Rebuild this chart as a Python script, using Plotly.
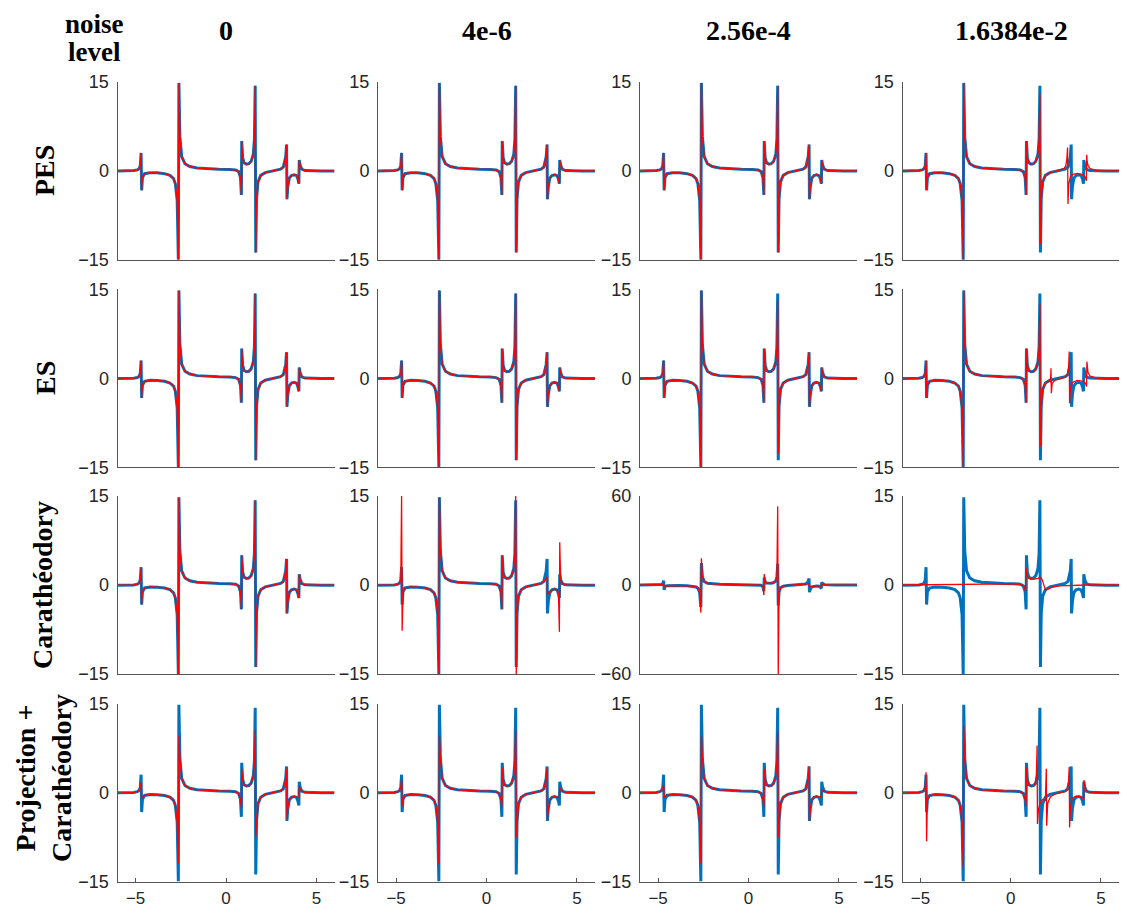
import plotly.graph_objects as go

# ---------------- data ----------------
NOISE_LEVELS = ["0", "4e-6", "2.56e-4", "1.6384e-2"]
METHODS = ["PES", "ES", "Carathéodory", "Projection +<br>Carathéodory"]
HEADER_LINES = ["noise", "level"]
X_TICKS = [-5, 0, 5]
Y_TICKS = [-15, 0, 15]
Y_TICKS_WIDE = [-60, 0, 60]

TRUE_X = [-6.0, -5.5, -5.1, -4.9, -4.8, -4.74, -4.695, -4.665, -4.62, -4.5,
          -4.2, -3.8, -3.4, -3.1, -2.9, -2.8, -2.7, -2.635, -2.605, -2.55,
          -2.45, -2.27, -2.0, -1.6, -1.0, -0.4, 0.2, 0.53, 0.7, 0.8,
          0.85, 0.87, 0.92, 1.0, 1.13, 1.26, 1.39, 1.51, 1.57, 1.615,
          1.645, 1.69, 1.77, 1.92, 2.17, 2.47, 2.77, 3.02, 3.17, 3.30,
          3.35, 3.37, 3.42, 3.50, 3.62, 3.77, 3.90, 3.98, 4.03, 4.05,
          4.10, 4.19, 4.37, 4.77, 5.3, 6.0]
TRUE_Y = [-0.04, -0.03, 0.02, 0.14, 0.36, 0.85, 3.0, -3.3, -1.16, -0.50,
          -0.33, -0.36, -0.50, -0.79, -1.32, -2.2, -4.98, -15.0, 14.8, 5.74,
          2.38, 1.18, 0.71, 0.45, 0.31, 0.26, 0.22, 0.12, -0.16, -1.17,
          -4.1, 5.0, 2.22, 1.32, 1.10, 1.18, 1.58, 2.79, 5.28, 14.3,
          -13.8, -4.74, -1.89, -0.79, -0.32, -0.10, 0.05, 0.27, 0.62, 2.33,
          4.4, -4.8, -2.68, -1.26, -0.80, -0.68, -0.82, -1.45, -2.2, 1.8,
          0.93, 0.25, 0.03, -0.03, -0.04, -0.03]

# reconstructions (red): values that differ from the exact curve
ES_2_PEAKS = {1.615: 13.3, 1.645: -12.7}

PES_3_PEAKS = {1.615: 12.9, 1.645: -12.3}
PES_3_SEG_X = [2.47, 2.77, 2.95, 3.05, 3.11, 3.15, 3.17, 3.22, 3.30, 3.45,
               3.70, 3.95, 4.10, 4.19, 4.21, 4.23, 4.29, 4.40, 4.77]
PES_3_SEG_Y = [-0.10, 0.10, 0.35, 0.80, 2.0, 3.9, -5.6, -2.2, -1.1, -0.6,
               -0.45, -0.6, -1.0, -1.7, 2.7, 1.6, 0.8, 0.35, 0.02]

ES_3_PEAKS = {1.615: 12.6, 1.645: -11.5}
ES_3_SEG_X = [1.92, 2.10, 2.20, 2.23, 2.25, 2.30, 2.47, 2.77, 3.00, 3.15,
              3.21, 3.24, 3.26, 3.31, 3.42, 3.70, 4.00, 4.15, 4.20, 4.22,
              4.28, 4.40, 4.77]
ES_3_SEG_Y = [-0.79, -0.45, -0.6, 1.7, -2.5, -0.8, -0.3, -0.05, 0.2, 0.8,
              2.0, 4.5, -4.2, -1.5, -0.7, -0.35, -0.5, -0.9, -1.4, 2.8,
              1.0, 0.35, 0.02]

CAR_1_PEAKS = {-4.695: 15.0, -4.665: -7.7, 1.615: 15.0, 1.645: -15.0,
               3.30: 1.0, 3.35: 1.4, 3.37: -1.7, 3.42: -1.3,
               4.03: -7.9, 4.05: 7.2}
CAR_2_PEAKS = {-4.74: 0.4, -4.695: 0.5, -4.665: -0.8, -4.62: -0.6,
               -2.635: -18.7, -2.605: 18.0, 0.85: -6.8, 0.87: 7.4,
               1.615: 53.0, 1.645: -60.0, 3.30: 0.8, 3.35: 1.0, 3.37: -1.0,
               3.42: -1.2, 3.98: -0.8, 4.03: -0.6, 4.05: 0.4, 4.10: 0.3}
CAR_3_X = [-6.0, -4.0, -2.6, -1.0, 0.0, 0.5, 0.72, 0.82, 0.86, 0.90,
           0.97, 1.1, 1.3, 1.5, 1.66, 1.74, 1.83, 1.93, 2.05, 2.3,
           2.7, 3.3, 4.2, 6.0]
CAR_3_Y = [0.0, 0.05, 0.2, 0.22, 0.18, 0.1, -0.1, -1.0, 2.8, 1.7,
           1.2, 1.05, 1.0, 1.1, 1.3, 0.9, -0.2, -0.9, -0.7, -0.35,
           -0.15, -0.05, 0.0, 0.0]

PROJ_0_PEAKS = {-4.695: 1.7, -4.665: -1.0, -4.62: -0.8, -2.635: -12.0,
                -2.605: 9.6, 0.85: -2.7, 0.87: 4.0, 1.615: 10.5, 1.645: -7.5,
                3.35: 4.0, 3.37: -4.5, 3.98: -0.9, 4.03: -0.7, 4.05: 1.0,
                4.10: 0.6}
PROJ_1_PEAKS = {-4.695: 2.2, -4.665: -2.3, -2.635: -12.1, -2.605: 9.6,
                0.85: -2.5, 0.87: 4.1, 1.615: 10.5, 1.645: -7.6, 3.35: 4.1,
                3.37: -4.5, 3.98: -0.9, 4.03: -0.7, 4.05: 0.8, 4.10: 0.5}
PROJ_2_PEAKS = {-4.695: 1.3, -4.665: -0.8, -4.62: -0.7, -2.635: -12.0,
                -2.605: 9.6, 0.85: -2.5, 0.87: 4.0, 1.615: 10.3, 1.645: -7.6,
                3.98: -0.7, 4.03: -0.4, 4.05: 0.4, 4.10: 0.3}
PROJ_3_PEAKS = {-4.695: 3.4, -4.665: -8.2, -2.635: -12.7, -2.605: 11.3,
                0.85: -2.2, 0.87: 4.2}
PROJ_3_SEG_X = [1.26, 1.35, 1.42, 1.46, 1.48, 1.54, 1.65, 1.80, 1.92, 1.97,
                1.99, 2.05, 2.20, 2.47, 2.77, 3.02, 3.12, 3.20, 3.24, 3.26,
                3.31, 3.42, 3.62, 3.85, 3.98, 4.04, 4.06, 4.12, 4.19, 4.37,
                4.77]
PROJ_3_SEG_Y = [1.2, 1.6, 3.0, 7.9, -5.3, -2.8, -1.5, -1.1, -1.3, 4.0,
                -5.6, -1.8, -0.7, -0.25, 0.0, 0.2, 0.6, 1.8, 4.3, -5.9,
                -2.2, -0.9, -0.6, -0.7, -1.0, -1.0, 2.1, 0.8, 0.3, 0.05,
                -0.03]


# ---------------- build the curves ----------------
def with_peaks(overrides=None):
    overrides = overrides or {}
    return list(TRUE_X), [overrides.get(x, y) for x, y in zip(TRUE_X, TRUE_Y)]


def spliced(overrides, seg_x, seg_y):
    xs, ys = with_peaks(overrides)
    lo, hi = seg_x[0], seg_x[-1]
    pts = [(x, y) for x, y in zip(xs, ys) if x < lo or x > hi]
    pts += list(zip(seg_x, seg_y))
    pts.sort()
    return [p[0] for p in pts], [p[1] for p in pts]


RED = [
    [with_peaks(), with_peaks(), with_peaks(),
     spliced(PES_3_PEAKS, PES_3_SEG_X, PES_3_SEG_Y)],
    [with_peaks(), with_peaks(), with_peaks(ES_2_PEAKS),
     spliced(ES_3_PEAKS, ES_3_SEG_X, ES_3_SEG_Y)],
    [with_peaks(), with_peaks(CAR_1_PEAKS), with_peaks(CAR_2_PEAKS),
     (CAR_3_X, CAR_3_Y)],
    [with_peaks(PROJ_0_PEAKS), with_peaks(PROJ_1_PEAKS),
     with_peaks(PROJ_2_PEAKS), spliced(PROJ_3_PEAKS, PROJ_3_SEG_X, PROJ_3_SEG_Y)],
]
WIDE_PANELS = {(2, 2)}

# ---------------- layout (positions in window pixels) ----------------
OFF = 8  # page margin around the figure
W, H = 1127 - 2 * OFF, 917 - 2 * OFF
COL_LEFT = [117.5, 378.0, 640.0, 902.5]
COL_W = 217.0
ROW_TOP = [81.7, 289.3, 496.0, 703.5]
ROW_H = 178.0


def px(x):
    return min(1.0, max(0.0, (x - OFF) / W))


def py(y):
    return min(1.0, max(0.0, 1 - (y - OFF) / H))


AX_COLOR = "#555555"
TXT_COLOR = "#262626"
BLUE = "#0072BD"
REDC = "#FF0000"

fig = go.Figure()
layout = dict(width=W, height=H, autosize=False,
              margin=dict(l=0, r=0, t=0, b=0, pad=0, autoexpand=False),
              paper_bgcolor="white", plot_bgcolor="white", showlegend=False)

annotations = []
for r in range(4):
    for c in range(4):
        k = r * 4 + c + 1
        xa = "x" if k == 1 else f"x{k}"
        ya = "y" if k == 1 else f"y{k}"
        fig.add_trace(go.Scatter(x=TRUE_X, y=TRUE_Y, mode="lines",
                                 line=dict(color=BLUE, width=3),
                                 xaxis=xa, yaxis=ya, hoverinfo="skip"))
        rx, ry = RED[r][c]
        fig.add_trace(go.Scatter(x=rx, y=ry, mode="lines",
                                 line=dict(color=REDC, width=1.3),
                                 xaxis=xa, yaxis=ya, hoverinfo="skip"))
        bottom = r == 3
        xaxis = dict(domain=[px(COL_LEFT[c]), px(COL_LEFT[c] + COL_W)],
                     range=[-6, 6], anchor=ya, automargin=False,
                     showline=True, linecolor=AX_COLOR, linewidth=1,
                     showgrid=False, zeroline=False, fixedrange=True,
                     ticks="inside" if bottom else "", ticklen=4,
                     tickcolor=AX_COLOR, tickvals=X_TICKS if bottom else [],
                     showticklabels=bottom, ticklabelstandoff=1,
                     tickfont=dict(family="Liberation Sans", size=17,
                                   color=TXT_COLOR))
        yt = Y_TICKS_WIDE if (r, c) in WIDE_PANELS else Y_TICKS
        yaxis = dict(domain=[py(ROW_TOP[r] + ROW_H), py(ROW_TOP[r])],
                     range=[yt[0], yt[-1]], anchor=xa, automargin=False,
                     showline=True, linecolor=AX_COLOR, linewidth=1,
                     showgrid=False, zeroline=False, fixedrange=True,
                     ticks="inside", ticklen=4, tickcolor=AX_COLOR,
                     tickvals=yt, ticklabelstandoff=4,
                     tickfont=dict(family="Liberation Sans", size=18,
                                   color=TXT_COLOR))
        layout["xaxis" if k == 1 else f"xaxis{k}"] = xaxis
        layout["yaxis" if k == 1 else f"yaxis{k}"] = yaxis

TITLE_FONT = dict(family="Liberation Serif", size=28, color="black")
for c, lvl in enumerate(NOISE_LEVELS):
    annotations.append(dict(text=f"<b>{lvl}</b>", xref="paper", yref="paper",
                            x=px(COL_LEFT[c] + COL_W / 2), y=py(31),
                            xanchor="center", yanchor="middle",
                            showarrow=False, font=TITLE_FONT))
for i, word in enumerate(HEADER_LINES):
    annotations.append(dict(text=f"<b>{word}</b>", xref="paper", yref="paper",
                            x=px(94), y=py(24 + 28 * i), xanchor="center",
                            yanchor="middle", showarrow=False,
                            font=dict(family="Liberation Serif", size=27,
                                      color="black")))
ROW_LABEL_POS = [(45, 171), (45, 378), (42, 585), (43, 778)]
for r, name in enumerate(METHODS):
    lx, ly = ROW_LABEL_POS[r]
    annotations.append(dict(text=f"<b>{name}</b>", xref="paper", yref="paper",
                            x=px(lx), y=py(ly), xanchor="center",
                            yanchor="middle", textangle=-90, showarrow=False,
                            font=TITLE_FONT))
layout["annotations"] = annotations
fig.update_layout(**layout)
fig.write_html("out.html")
